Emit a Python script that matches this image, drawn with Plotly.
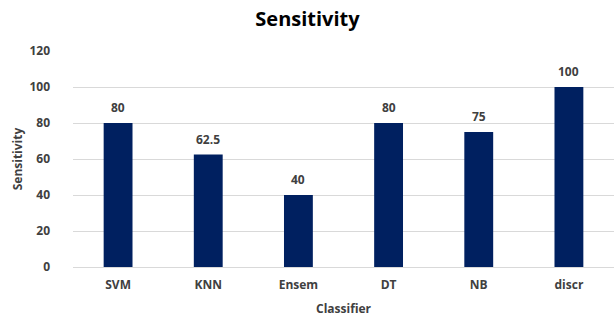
import plotly.graph_objects as go

categories = ["SVM", "KNN", "Ensem", "DT", "NB", "discr"]
sensitivity = [80, 62.5, 40, 80, 75, 100]
y_ticks = [0, 20, 40, 60, 80, 100, 120]

font_family = "Open Sans, Liberation Sans, sans-serif"
text_color = "#404040"

fig = go.Figure(
    go.Bar(
        x=categories,
        y=sensitivity,
        marker=dict(color="#002060", line=dict(width=0)),
        cliponaxis=False,
        hoverinfo="skip",
    )
)

for cat, val in zip(categories, sensitivity):
    fig.add_annotation(
        x=cat,
        y=val,
        text=f"<b>{val:g}</b>",
        showarrow=False,
        yanchor="bottom",
        yshift=5,
        font=dict(family=font_family, size=12, color=text_color),
    )

fig.update_layout(
    width=615,
    height=320,
    margin=dict(l=73, r=1, t=51, b=53),
    paper_bgcolor="white",
    plot_bgcolor="white",
    bargap=0.68,
    showlegend=False,
    title=dict(
        text="<b>Sensitivity</b>",
        x=0.5,
        xref="container",
        xanchor="center",
        y=0.94,
        yref="container",
        yanchor="middle",
        font=dict(family=font_family, size=20, color="#000000"),
    ),
    xaxis=dict(
        title=dict(text="<b>Classifier</b>", font=dict(family=font_family, size=12, color=text_color), standoff=12),
        tickfont=dict(family=font_family, size=12, color=text_color, weight="bold"),
        showgrid=False,
        showline=True,
        linecolor="#d9d9d9",
        linewidth=1,
        ticks="",
        ticklabelstandoff=7,
        automargin=False,
    ),
    yaxis=dict(
        title=dict(text="<b>Sensitivity</b>", font=dict(family=font_family, size=12, color=text_color), standoff=4),
        range=[0, 120],
        tickvals=y_ticks,
        tickfont=dict(family=font_family, size=12, color=text_color, weight="bold"),
        showgrid=True,
        gridcolor="#d9d9d9",
        gridwidth=1,
        zeroline=False,
        showline=False,
        ticks="",
        ticklabelstandoff=22,
        automargin=False,
    ),
)

fig.write_html(
    "out.html",
    config={"displayModeBar": False},
    post_script="document.body.style.margin='0';",
)
